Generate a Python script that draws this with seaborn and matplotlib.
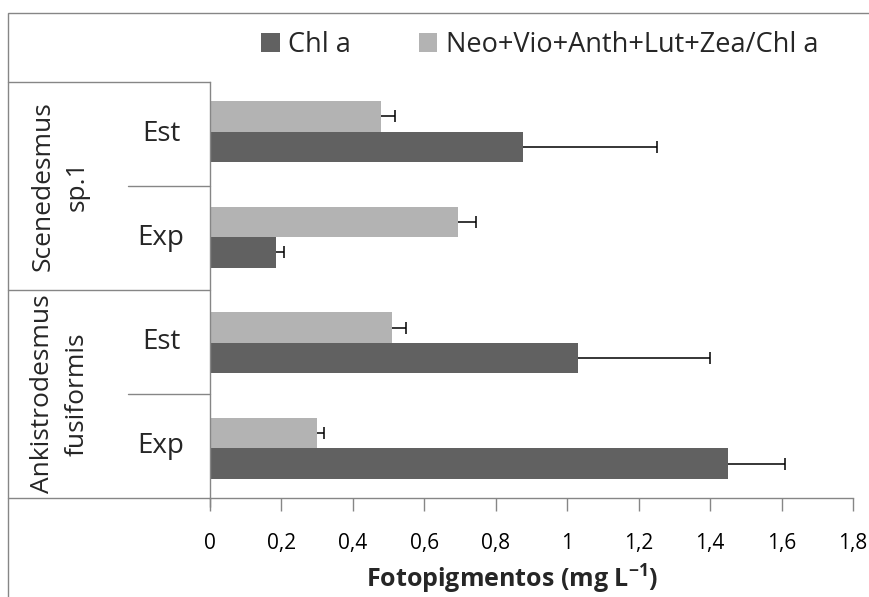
import numpy as np
import pandas as pd
import seaborn as sns
import matplotlib
matplotlib.use("Agg")
import matplotlib.pyplot as plt
from matplotlib.patches import Rectangle, Patch
from matplotlib.lines import Line2D

# ---- data ----
species = ["Scenedesmus\nsp.1", "Ankistrodesmus\nfusiformis"]
phases = ["Est", "Exp"]
series = ["Chl a", "Neo+Vio+Anth+Lut+Zea/Chl a"]

chl_a = [0.875, 0.185, 1.03, 1.45]
chl_a_err = [0.377, 0.022, 0.37, 0.16]
carot_ratio = [0.478, 0.695, 0.51, 0.30]
carot_ratio_err = [0.04, 0.05, 0.04, 0.02]

x_ticks = [0, 0.2, 0.4, 0.6, 0.8, 1.0, 1.2, 1.4, 1.6, 1.8]

# ---- styling ----
sns.set_theme(style="white")
FONT = ["Open Sans", "DejaVu Sans"]
plt.rcParams["font.family"] = FONT
plt.rcParams["mathtext.fontset"] = "custom"
plt.rcParams["mathtext.bf"] = "Open Sans:bold"
plt.rcParams["mathtext.rm"] = "Open Sans"

DARK = "#616161"
LIGHT = "#b3b3b3"
GRID = "#868686"

cat_keys = [f"{s.split(chr(10))[0]} {p}" for s in species for p in phases]
df = pd.DataFrame({
    "cat": cat_keys * 2,
    "serie": [series[0]] * 4 + [series[1]] * 4,
    "valor": chl_a + carot_ratio,
})

fig = plt.figure(figsize=(8.7, 5.97), dpi=100)
W, H = 870, 597
x0, x1, ytop, ybot = 210, 853, 82, 498
ax = fig.add_axes([x0 / W, 1 - ybot / H, (x1 - x0) / W, (ybot - ytop) / H])

sns.barplot(data=df, y="cat", x="valor", hue="serie", order=cat_keys,
            hue_order=[series[1], series[0]],
            palette={series[0]: DARK, series[1]: LIGHT},
            orient="h", width=0.58, saturation=1, errorbar=None,
            legend=False, ax=ax, linewidth=0)

# positive-only error bars, placed on the bars seaborn drew
errs = {series[1]: carot_ratio_err, series[0]: chl_a_err}
for container, name in zip(ax.containers, [series[1], series[0]]):
    ys = [p.get_y() + p.get_height() / 2 for p in container.patches]
    xs = [p.get_width() for p in container.patches]
    e = errs[name]
    _, caps, _ = ax.errorbar(xs, ys, xerr=[np.zeros(len(e)), e], fmt="none",
                             ecolor="black", elinewidth=1.1, capsize=4,
                             capthick=1.1)
    caps[0].set_visible(False)

ax.set_xlim(0, 1.8)
ax.set_xticks(x_ticks)
ax.set_xticklabels([f"{t:g}".replace(".", ",") for t in x_ticks], fontsize=15)
ax.tick_params(axis="x", direction="out", length=9, width=1, color=GRID,
               pad=16, labelcolor="black", bottom=True)
ax.set_yticks([])
ax.set_ylabel("")
ax.set_xlabel("")

for side in ["top", "right"]:
    ax.spines[side].set_visible(False)
for side in ["left", "bottom"]:
    ax.spines[side].set_color(GRID)
    ax.spines[side].set_linewidth(1)

# category table on the left
def ax_x(px):
    return (px - x0) / (x1 - x0)

def ax_y(py):
    return (ybot - py) / (ybot - ytop)

table_left, mid = 8, 128
lines = [
    ((table_left, x0), (ytop, ytop)),
    ((table_left, x0), (290, 290)),
    ((table_left, x0), (ybot, ybot)),
    ((mid, x0), (186, 186)),
    ((mid, x0), (394, 394)),
    ((x0, x0), (ybot, ybot + 9)),
]
for (xa, xb), (ya, yb) in lines:
    ax.add_line(Line2D([ax_x(xa), ax_x(xb)], [ax_y(ya), ax_y(yb)],
                       transform=ax.transAxes, color=GRID, lw=1, clip_on=False))

phase_y = [134, 238, 342, 446]
for i, py in enumerate(phase_y):
    ax.text(ax_x(161), ax_y(py), phases[i % 2], transform=ax.transAxes,
            ha="center", va="center", fontsize=20)

for i, sp in enumerate(species):
    cy = 186 + i * 208
    ax.text(ax_x(60), ax_y(cy), sp, transform=ax.transAxes, rotation=90,
            ha="center", va="center", fontsize=19, linespacing=1.5,
            multialignment="center")

# outer frame
fig.add_artist(Rectangle((8 / W, -0.5), 2, 1.5 - 13 / H, transform=fig.transFigure,
                         fill=False, edgecolor=GRID, lw=1))

# legend
handles = [Patch(facecolor=DARK, edgecolor="none", label=series[0]),
           Patch(facecolor=LIGHT, edgecolor="none", label=series[1])]
fig.legend(handles=handles, loc="center", bbox_to_anchor=(540 / W, 1 - 45 / H),
           ncol=2, frameon=False, fontsize=19.5, handlelength=0.67,
           handleheight=0.67, handletextpad=0.33, columnspacing=2.5,
           borderaxespad=0, borderpad=0)

fig.text(512 / W, 1 - 579 / H, r"Fotopigmentos (mg L$^{\mathbf{-1}}$)",
         ha="center", va="center", fontsize=18, fontweight="bold")

fig.savefig("out.png", dpi=100)
